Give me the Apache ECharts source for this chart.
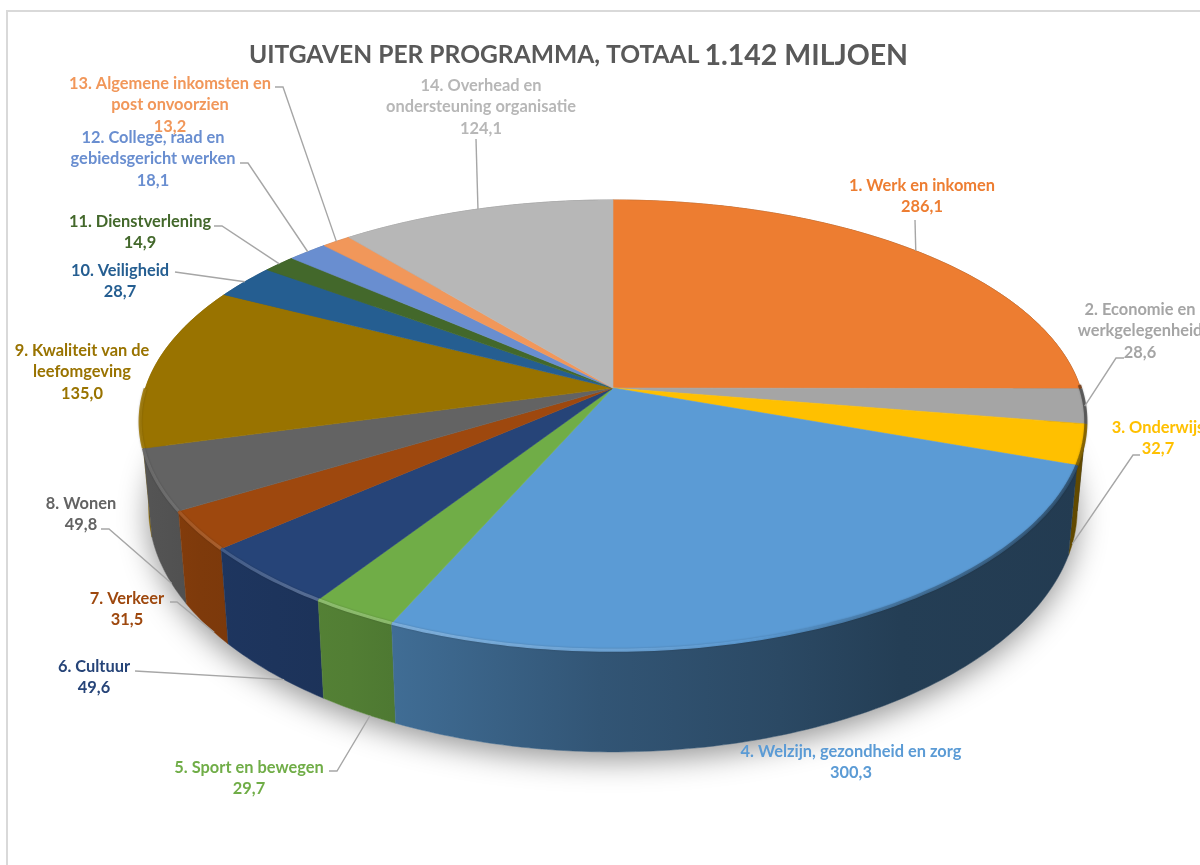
<!DOCTYPE html>
<html lang="nl">

<head>
  <meta charset="UTF-8">
  <title>Uitgaven per programma</title>
  <style>
  html, body { margin: 0; padding: 0; background: #fff; overflow: hidden; }
  #main { width: 1200px; height: 865px; }
  </style>
  <script src="https://cdn.jsdelivr.net/npm/echarts@6/dist/echarts.min.js"></script>
</head>

<body>
  <div id="main"></div>
  <script>
  // data
  var names = [
    '1. Werk en inkomen',
    '2. Economie en\nwerkgelegenheid',
    '3. Onderwijs',
    '4. Welzijn, gezondheid en zorg',
    '5. Sport en bewegen',
    '6. Cultuur',
    '7. Verkeer',
    '8. Wonen',
    '9. Kwaliteit van de\nleefomgeving',
    '10. Veiligheid',
    '11. Dienstverlening',
    '12. College, raad en\ngebiedsgericht werken',
    '13. Algemene inkomsten en\npost onvoorzien',
    '14. Overhead en\nondersteuning organisatie'
  ];
  var values = [286.1, 28.6, 32.7, 300.3, 29.7, 49.6, 31.5, 49.8, 135.0, 28.7, 14.9, 18.1, 13.2, 124.1];

  // styling
  var colors = ['#ed7d31', '#a5a5a5', '#ffc000', '#5b9bd5', '#70ad47', '#264478', '#9e480e',
    '#636363', '#997300', '#255e91', '#43682b', '#698ed0', '#f1975a', '#b7b7b7'];
  // label centre x and y of first line
  var labelPos = [[922, 184], [1140, 308], [1158, 426], [851, 750], [249, 766], [94, 665], [127, 597],
    [81, 502], [82, 349], [120, 269], [140, 220], [153, 136], [170, 82], [481, 84]];
  // leader line: points near the label, then it runs to the pie rim
  // ring 0 = top rim, 1 = bottom rim, da = nudge along the rim in degrees
  var leaders = [
    { pts: [[915, 220]], ring: 0, da: 0.6 },
    { pts: [[1124, 358], [1116, 358]], ring: 0, da: 0 },
    { pts: [[1140, 455], [1133, 455]], ring: 1, da: 2.5 },
    null,
    { pts: [[329, 771], [337, 771]], ring: 1, da: -1.5 },
    { pts: [[135, 671]], ring: 1, da: -2 },
    { pts: [[170, 602], [177, 602]], ring: 1, da: -2 },
    { pts: [[101, 529], [109, 529]], ring: 1, da: -3 },
    null,
    { pts: [[175, 272]], ring: 0, da: 0 },
    { pts: [[214, 226], [222, 226]], ring: 0, da: 0 },
    { pts: [[240, 163], [248, 163]], ring: 0, da: 0 },
    { pts: [[275, 87], [283, 87]], ring: 0, da: 0 },
    { pts: [[476, 139]], ring: 0, da: 0.3 }
  ];

  // cumulative value per slice
  var total = values.reduce(function (a, b) { return a + b }, 0);
  var cum = [0];
  values.forEach(function (v, i) { cum.push(cum[i] + v) });

  function toAngle(val) {
    return echarts.number.linearMap(val, [0, total], [0, Math.PI * 2]);
  }

  // perspective projection of the disc, apex is the pie centre
  var kx = 0.15, ky = 0.1646;
  var rings = [
    { cx: 613, cy: 388, rx: 467.5, ry: 219 },
    { cx: 613, cy: 473, rx: 459, ry: 233 }
  ];

  function project(angle, ring) {
    var r = rings[ring];
    var u = Math.sin(angle), v = -Math.cos(angle);
    return [r.cx + r.rx * u / (1 - kx * v), r.cy + r.ry * v / (1 - ky * v)];
  }

  function arc(i, ring) {
    var a0 = toAngle(cum[i]), a1 = toAngle(cum[i + 1]);
    var n = Math.max(6, Math.ceil((a1 - a0) * 60));
    var pts = [];
    for (var j = 0; j <= n; j++) {
      pts.push(project(a0 + (a1 - a0) * j / n, ring));
    }
    return pts;
  }

  function shade(hex, f) {
    var c = echarts.color.parse(hex);
    return 'rgb(' + [0, 1, 2].map(function (i) {
      var x = f <= 1 ? c[i] * f : c[i] + (255 - c[i]) * (f - 1);
      return Math.round(x);
    }).join(',') + ')';
  }

  function hGradient(stops, color) {
    var x0 = 140, x1 = 1086;
    return new echarts.graphic.LinearGradient(x0, 0, x1, 0, stops.map(function (s) {
      return { offset: (s[0] - x0) / (x1 - x0), color: shade(color, s[1]) };
    }), true);
  }

  var sideStops = [[140, 0.86], [200, 0.8], [350, 0.73], [392, 0.7], [600, 0.55], [780, 0.47], [900, 0.4], [1086, 0.38]];
  var rimStops = [[140, 1.05], [300, 1.24], [450, 1.22], [620, 1.12], [760, 1], [900, 0.72], [1086, 0.5]];

  // back to front so nearer side walls cover the others
  var order = values.map(function (v, i) { return i }).sort(function (a, b) {
    var ma = toAngle((cum[a] + cum[a + 1]) / 2), mb = toAngle((cum[b] + cum[b + 1]) / 2);
    return -Math.cos(ma) + Math.cos(mb);
  });

  function renderShadow() {
    var pts = [];
    for (var j = 0; j <= 180; j++) {
      pts.push(project(j / 180 * Math.PI * 2, 1));
    }
    return {
      type: 'polygon',
      shape: { points: pts },
      style: { fill: '#fff', shadowBlur: 30, shadowOffsetX: 0, shadowOffsetY: 8, shadowColor: 'rgba(0,0,0,0.42)' }
    };
  }

  function renderSide(params) {
    var i = order[params.dataIndex];
    var pts = arc(i, 0).concat(arc(i, 1).reverse());
    var fill = hGradient(sideStops, colors[i]);
    return {
      type: 'polygon',
      shape: { points: pts },
      style: { fill: fill, stroke: fill, lineWidth: 0.5 }
    };
  }

  function renderTop(params) {
    var i = params.dataIndex;
    var rim = arc(i, 0);
    var children = [{
      type: 'polygon',
      shape: { points: [[rings[0].cx, rings[0].cy]].concat(rim) },
      style: { fill: colors[i], stroke: colors[i], lineWidth: 0.6 }
    }];
    // soft bevel along the visible front edge
    var front = rim.filter(function (p) { return p[1] > 385 });
    if (front.length > 1) {
      children.push({
        type: 'polyline',
        shape: { points: front },
        z2: 5,
        style: { fill: null, stroke: hGradient(rimStops, colors[i]), lineWidth: 3.2, opacity: 0.9, shadowBlur: 2, shadowColor: 'rgba(0,0,0,0.25)' }
      });
    }
    return { type: 'group', children: children };
  }

  function renderLabel(params) {
    var i = params.dataIndex;
    var children = [];
    var pos = labelPos[i];
    children.push({
      type: 'text',
      x: pos[0],
      y: pos[1] - 9.5,
      z2: 10,
      style: {
        text: names[i] + '\n' + values[i].toFixed(1).replace('.', ','),
        fill: colors[i],
        font: 'bold 16.4px Lato',
        lineHeight: 21.5,
        align: 'center',
        verticalAlign: 'top'
      }
    });
    var l = leaders[i];
    if (l) {
      var mid = toAngle((cum[i] + cum[i + 1]) / 2) + l.da * Math.PI / 180;
      children.push({
        type: 'polyline',
        shape: { points: l.pts.concat([project(mid, l.ring)]) },
        z2: 9,
        style: { fill: null, stroke: '#a6a6a6', lineWidth: 1.4 }
      });
    }
    return { type: 'group', children: children };
  }

  var myChart = echarts.init(document.getElementById('main'));
  myChart.setOption({
    animation: false,
    backgroundColor: '#fff',
    title: {
      left: 244,
      top: 36,
      text: '{a|UITGAVEN PER PROGRAMMA, TOTAAL} {b|1.142 MILJOEN}',
      textStyle: {
        rich: {
          a: { fontFamily: 'Lato', fontWeight: 'bold', fontSize: 24.6, color: '#595959' },
          b: { fontFamily: 'Lato', fontWeight: 'bold', fontSize: 28.5, color: '#595959' }
        }
      }
    },
    graphic: [{
      type: 'rect',
      shape: { x: 7, y: 11, width: 1500, height: 1200 },
      style: { fill: null, stroke: '#d9d9d9', lineWidth: 2 },
      silent: true
    }],
    series: [
      { type: 'custom', coordinateSystem: 'none', z: 2, silent: true, data: [0], renderItem: renderShadow },
      { type: 'custom', coordinateSystem: 'none', z: 3, silent: true, data: order, renderItem: renderSide },
      { type: 'custom', coordinateSystem: 'none', z: 4, silent: true, data: values, renderItem: renderTop },
      { type: 'custom', coordinateSystem: 'none', z: 5, silent: true, data: values, renderItem: renderLabel }
    ]
  });
  </script>
</body>

</html>
